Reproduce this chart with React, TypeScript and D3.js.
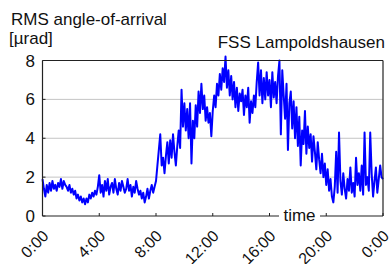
import React from "react";
import * as d3 from "d3";

// RMS angle-of-arrival values [µrad], sampled every 0.1 h from 0:00 to 24:00
const hour00 = [1.9, 1.4, 1.0, 1.6, 1.2, 1.7, 1.3, 1.8, 1.4, 1.6];
const hour01 = [1.3, 1.7, 1.5, 1.9, 1.4, 1.8, 1.6, 1.5, 1.3, 1.6];
const hour02 = [1.2, 1.4, 1.1, 1.3, 0.9, 1.1, 0.8, 1.0, 0.7, 0.9];
const hour03 = [0.6, 0.9, 0.7, 1.1, 0.9, 1.2, 1.0, 1.3, 1.1, 1.5];
const hour04 = [2.1, 1.2, 1.6, 1.0, 1.8, 1.3, 1.9, 1.1, 1.5, 1.7];
const hour05 = [1.2, 1.9, 1.4, 1.1, 1.7, 1.3, 1.8, 1.5, 1.2, 1.4];
const hour06 = [1.9, 1.3, 1.6, 1.0, 1.5, 1.2, 1.8, 1.4, 1.1, 1.3];
const hour07 = [0.9, 1.2, 0.7, 1.0, 1.4, 0.9, 1.3, 1.6, 1.2, 1.5];
const hour08 = [1.8, 2.6, 3.4, 4.2, 2.6, 3.0, 2.2, 3.1, 3.8, 2.7];
const hour09 = [3.9, 3.0, 4.2, 3.3, 2.6, 3.6, 4.4, 3.5, 6.5, 4.6];
const hour10 = [5.8, 4.4, 5.5, 4.0, 5.8, 2.7, 4.9, 4.0, 5.7, 4.6];
const hour11 = [6.4, 5.3, 6.8, 5.5, 6.2, 4.9, 5.6, 4.8, 5.3, 4.1];
const hour12 = [5.4, 6.2, 5.6, 6.8, 6.2, 7.3, 6.5, 7.6, 6.9, 8.2];
const hour13 = [6.6, 7.5, 6.2, 7.2, 6.0, 6.9, 5.6, 6.6, 5.4, 6.3];
const hour14 = [5.9, 6.5, 5.2, 6.2, 5.6, 6.6, 4.8, 5.9, 5.3, 6.2];
const hour15 = [5.6, 6.9, 7.9, 6.2, 7.5, 5.8, 7.1, 6.0, 7.4, 6.2];
const hour16 = [7.0, 5.6, 7.4, 6.1, 6.9, 5.8, 7.2, 8.0, 4.2, 7.5];
const hour17 = [6.2, 5.0, 6.8, 3.4, 5.8, 6.4, 4.5, 5.9, 4.0, 5.6];
const hour18 = [3.6, 5.1, 2.6, 4.4, 3.7, 5.4, 3.2, 4.6, 3.5, 4.2];
const hour19 = [2.8, 4.1, 3.3, 2.4, 3.8, 2.9, 2.2, 3.2, 2.0, 2.7];
const hour20 = [1.6, 2.4, 1.3, 1.9, 1.0, 0.7, 1.5, 3.3, 1.2, 4.3];
const hour21 = [1.8, 1.1, 2.2, 1.4, 0.9, 1.9, 1.3, 2.5, 1.2, 1.7];
const hour22 = [1.0, 3.0, 1.6, 2.2, 1.3, 2.6, 1.1, 4.3, 1.6, 2.0];
const hour23 = [1.3, 4.3, 2.2, 1.0, 1.8, 2.5, 1.2, 1.9, 2.6, 2.0];
const hour24 = [1.9];

const rmsValues = [
  ...hour00, ...hour01, ...hour02, ...hour03, ...hour04, ...hour05,
  ...hour06, ...hour07, ...hour08, ...hour09, ...hour10, ...hour11,
  ...hour12, ...hour13, ...hour14, ...hour15, ...hour16, ...hour17,
  ...hour18, ...hour19, ...hour20, ...hour21, ...hour22, ...hour23, ...hour24,
];
const sampleStepHours = 0.1;

const xTickHours = [0, 4, 8, 12, 16, 20, 24];
const xTickLabels = ["0:00", "4:00", "8:00", "12:00", "16:00", "20:00", "0:00"];
const yTicks = [0, 2, 4, 6, 8];
const gridValues = [2, 4, 6];

const W = 390;
const H = 264;
const left = 42.5;
const right = 383;
const top = 60.5;
const bottom = 216;
const font = "'Liberation Sans', Arial, sans-serif";

export default function App() {
  const x = d3.scaleLinear().domain([0, 24]).range([left, right]);
  const y = d3.scaleLinear().domain([0, 8]).range([bottom, top]);
  const pts: [number, number][] = rmsValues.map((v, i) => [i * sampleStepHours, v]);
  const line = d3
    .line<[number, number]>()
    .x((d) => x(d[0]))
    .y((d) => y(d[1]));

  return (
    <svg
      width={W}
      height={H}
      style={{ position: "absolute", left: 0, top: 0, background: "#fff" }}
      fontFamily={font}
    >
      {gridValues.map((g) => (
        <line key={g} x1={left} x2={right} y1={y(g)} y2={y(g)} stroke="#c4c4c4" strokeWidth={1} />
      ))}
      <path d={line(pts) || ""} fill="none" stroke="#0000ff" strokeWidth={2} strokeLinejoin="round" />
      {/* frame */}
      <line x1={left} x2={right} y1={top} y2={top} stroke="#222" strokeWidth={1.2} />
      <line x1={right} x2={right} y1={top} y2={bottom} stroke="#222" strokeWidth={1.2} />
      <line x1={left} x2={left} y1={top} y2={bottom} stroke="#222" strokeWidth={1.2} />
      <line x1={left} x2={right} y1={bottom} y2={bottom} stroke="#222" strokeWidth={1.2} />
      {/* y ticks */}
      {yTicks.map((t) => (
        <g key={t}>
          <line x1={left} x2={left + 3} y1={y(t)} y2={y(t)} stroke="#222" />
          <text x={35} y={y(t) + 6} textAnchor="end" fontSize={17} fill="#111">
            {t}
          </text>
        </g>
      ))}
      {/* x ticks */}
      {xTickHours.map((h, i) => (
        <g key={i}>
          <line x1={x(h)} x2={x(h)} y1={bottom} y2={bottom - 3} stroke="#222" />
          <text
            transform={`translate(${x(h) + 7},${bottom + 21}) rotate(-45)`}
            textAnchor="end"
            fontSize={16}
            fill="#111"
          >
            {xTickLabels[i]}
          </text>
        </g>
      ))}
      {/* axis title on x axis */}
      <rect x={279} y={bottom - 4} width={41} height={8} fill="#fff" />
      <text x={299.5} y={bottom + 5} textAnchor="middle" fontSize={17} fill="#111">
        time
      </text>
      {/* titles */}
      <text x={11} y={25} fontSize={17} fill="#111">
        RMS angle-of-arrival
      </text>
      <text x={9} y={44} fontSize={17} fill="#111">
        [µrad]
      </text>
      <text x={385} y={48} textAnchor="end" fontSize={17} fill="#111">
        FSS Lampoldshausen
      </text>
    </svg>
  );
}
